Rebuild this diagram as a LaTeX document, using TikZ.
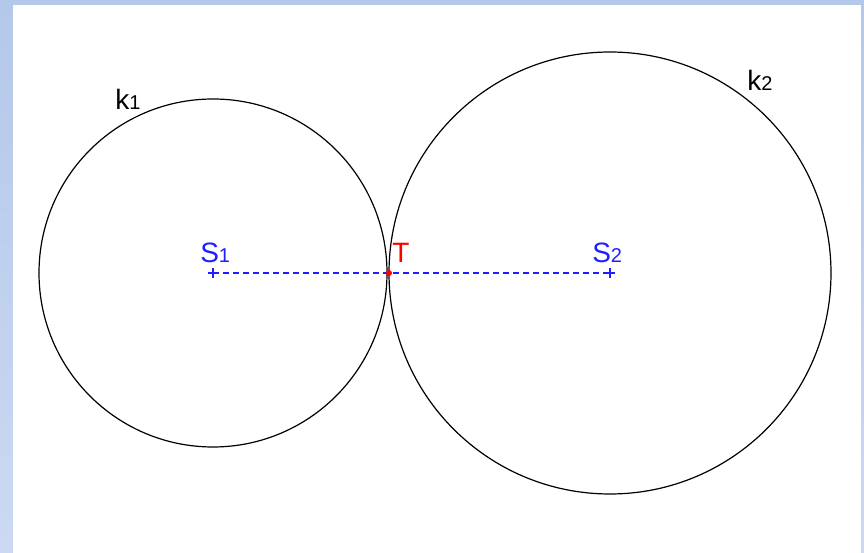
\documentclass[tikz,border=0pt]{standalone}
\usepackage{fontspec}
\setmainfont{Liberation Sans}
\definecolor{frameblue}{RGB}{180,200,234}
\definecolor{frameblue2}{RGB}{203,217,242}
\definecolor{ptblue}{RGB}{30,30,255}
\newcommand{\circlabel}[2]{{\fontsize{21}{21}\selectfont #1}{\fontsize{15}{15}\selectfont #2}}
\tikzset{
  lbl/.style={anchor=base west,inner sep=0pt},
  center/.style={ptblue,line width=1.1pt},
}
\begin{document}
\begin{tikzpicture}[x=0.75pt,y=0.75pt]
\useasboundingbox (0,0) rectangle (864,553);
\shade[top color=frameblue,bottom color=frameblue2] (0,0) rectangle (864,553);
\fill[white] (13,0) rectangle (861,548);
\coordinate (S1) at (213,280);
\coordinate (S2) at (610,280);
\coordinate (T) at (389,280);
\draw[line width=0.9pt] (S1) circle (174);
\draw[line width=0.9pt] (S2) circle (221);
\node[lbl] (k1) at (115,443) {\circlabel{k}{1}};
\node[lbl] (k2) at (747,462) {\circlabel{k}{2}};
\draw[center,dash pattern=on 4.5pt off 3pt] (S1) -- (S2);
\draw[center] (S1) +(-5,0) -- +(5,0) (S1) +(0,-5) -- +(0,5);
\draw[center] (S2) +(-5,0) -- +(5,0) (S2) +(0,-5) -- +(0,5);
\node[lbl,text=ptblue] (s1) at (200,290) {\circlabel{S}{1}};
\node[lbl,text=ptblue] (s2) at (592,290) {\circlabel{S}{2}};
\node[lbl,text=red] (t) at (392,290) {\fontsize{21}{21}\selectfont T};
\fill[red] (T) circle (3);
\end{tikzpicture}
\end{document}
